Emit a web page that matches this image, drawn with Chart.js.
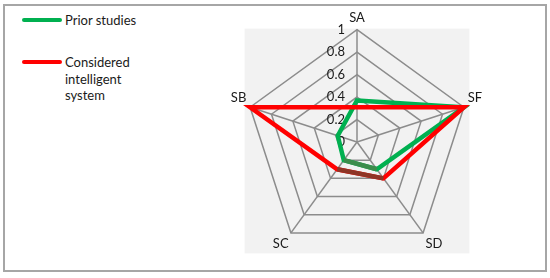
<!DOCTYPE html>
<html>
<head>
<meta charset="utf-8">
<script src="https://cdn.jsdelivr.net/npm/chart.js@4"></script>
<style>
  html, body { margin: 0; padding: 0; background: #fff; overflow: hidden; }
  body { width: 550px; height: 278px; position: relative; font-family: Lato, 'Open Sans', sans-serif; color: #1a1a1a; }
  .frame { position: absolute; left: 3px; top: 4px; width: 540px; height: 264px; border: 2px solid #a6a6a6; }
  .legend { position: absolute; left: 22px; font-size: 13px; line-height: 16.5px; }
  .legend .swatch { position: absolute; left: 0; width: 40px; height: 4px; border-radius: 2px; }
  .legend .txt { position: absolute; left: 43px; top: 0; white-space: nowrap; }
  .chart-box { position: absolute; left: 225px; top: 1px; width: 264px; height: 264px; }
</style>
</head>
<body>
<div class="frame"></div>
<div id="legend"></div>
<div class="chart-box"><canvas id="chart"></canvas></div>
<script>
const categories = ['SA', 'SF', 'SD', 'SC', 'SB'];
const priorStudies = [0.37, 1, 0.3, 0.2, 0.18];
const consideredSystem = [0.31, 1, 0.4, 0.3, 1];
const tickValues = [0, 0.2, 0.4, 0.6, 0.8, 1];

const seriesNames = ['Prior studies', 'Considered intelligent system'];
const seriesColors = ['#00b050', '#ff0000'];
// the SD-SC stretch looks darker in the original
const seriesDark = ['#3c8c4c', '#8e3526'];

// legend, drawn as html
const legendEl = document.getElementById('legend');
const legendRows = [
  { top: 12, lines: ['Prior studies'] },
  { top: 54, lines: ['Considered', 'intelligent', 'system'] },
];
legendRows.forEach((row, i) => {
  const item = document.createElement('div');
  item.className = 'legend';
  item.style.top = row.top + 'px';
  item.innerHTML = '<div class="swatch" style="top:6px;background:' + seriesColors[i] + '"></div>' +
    '<div class="txt">' + row.lines.join('<br>') + '</div>';
  legendEl.appendChild(item);
});

const radarExtras = {
  id: 'radarExtras',
  // grey square behind the web
  beforeDraw(chart) {
    const s = chart.scales.r;
    const ctx = chart.ctx;
    const R = s.getDistanceFromCenterForValue(1);
    ctx.save();
    ctx.fillStyle = '#f2f2f2';
    ctx.fillRect(s.xCenter - R, s.yCenter - R - 1, 2 * R, 2 * R);
    ctx.restore();
  },
  // tick labels sit left of the SA axis
  beforeDatasetsDraw(chart) {
    const s = chart.scales.r;
    const ctx = chart.ctx;
    ctx.save();
    ctx.font = '13px Lato, sans-serif';
    ctx.fillStyle = '#1a1a1a';
    ctx.textAlign = 'right';
    ctx.textBaseline = 'middle';
    tickValues.forEach(v => {
      const p = s.getPointPositionForValue(0, v);
      ctx.fillText(String(v), p.x - 12, p.y);
    });
    ctx.restore();
  },
  // darker SD -> SC stretch
  afterDatasetsDraw(chart) {
    const ctx = chart.ctx;
    ctx.save();
    ctx.lineWidth = 4.5;
    ctx.lineCap = 'butt';
    [0, 1].forEach(i => {
      const pts = chart.getDatasetMeta(i).data;
      const a = pts[2], b = pts[3];
      ctx.strokeStyle = seriesDark[i];
      ctx.beginPath();
      ctx.moveTo(a.x, a.y);
      ctx.lineTo(b.x, b.y);
      ctx.stroke();
    });
    ctx.restore();
  },
};

new Chart(document.getElementById('chart'), {
  type: 'radar',
  data: {
    labels: categories,
    datasets: [
      {
        label: seriesNames[0],
        data: priorStudies,
        borderColor: seriesColors[0],
        backgroundColor: 'transparent',
        borderWidth: 4.5,
        fill: false,
        pointRadius: 0,
        borderJoinStyle: 'miter',
        order: 1,
      },
      {
        label: seriesNames[1],
        data: consideredSystem,
        borderColor: seriesColors[1],
        backgroundColor: 'transparent',
        borderWidth: 4.5,
        fill: false,
        pointRadius: 0,
        borderJoinStyle: 'miter',
        order: 0,
      },
    ],
  },
  options: {
    responsive: true,
    maintainAspectRatio: false,
    animation: false,
    events: [],
    plugins: {
      legend: { display: false },
      tooltip: { enabled: false },
    },
    scales: {
      r: {
        min: 0,
        max: 1,
        ticks: { display: false, stepSize: 0.2 },
        grid: { color: '#8c8c8c', lineWidth: 1.5 },
        angleLines: { color: '#8c8c8c', lineWidth: 1.5 },
        pointLabels: {
          color: '#1a1a1a',
          padding: 4,
          font: { family: 'Lato, sans-serif', size: 13 },
        },
      },
    },
  },
  plugins: [radarExtras],
});
</script>
</body>
</html>
